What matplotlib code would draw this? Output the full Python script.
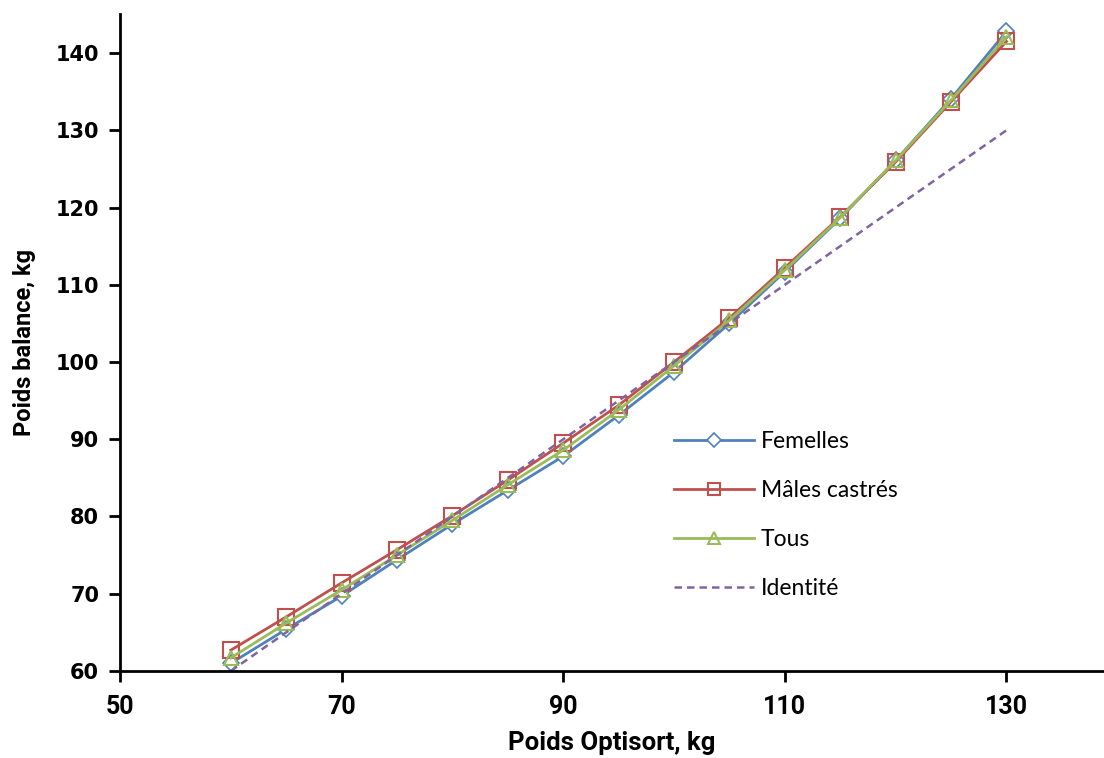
import matplotlib.pyplot as plt
import numpy as np

# Poids Optisort (kg)
optisort = [60, 65, 70, 75, 80, 85, 90, 95, 100, 105, 110, 115, 120, 125, 130]

# Poids balance (kg)
femelles = [61.0, 65.4, 69.7, 74.4, 79.0, 83.4, 87.8, 93.1, 98.7, 105.0, 111.7, 118.6, 126.1, 134.1, 142.8]
males = [62.7, 67.0, 71.4, 75.7, 80.1, 84.7, 89.5, 94.4, 100.0, 105.7, 112.2, 118.8, 125.9, 133.7, 141.5]
tous = [61.7, 66.2, 70.5, 75.0, 79.5, 84.1, 88.6, 93.8, 99.5, 105.4, 111.9, 118.7, 126.1, 133.9, 142.1]
identite = [60, 130]

fig = plt.figure(figsize=(11.04, 7.58), dpi=100)
ax = fig.add_axes([0.1087, 0.1148, 0.8913, 0.8662])

ax.plot(optisort, femelles, color='#4F81BD', lw=2, marker='D', ms=8,
        mfc='white', mec='#4F81BD', mew=1.2, label='Femelles')
ax.plot(optisort, males, color='#C0504D', lw=2, marker='s', ms=11,
        mfc='none', mec='#C0504D', mew=1.5, label='Mâles castrés')
ax.plot(optisort, tous, color='#9BBB59', lw=2, marker='^', ms=10,
        mfc='none', mec='#9BBB59', mew=1.5, label='Tous')
ax.plot(identite, identite, color='#8064A2', lw=1.8, ls=(0, (3, 2)), label='Identité')

ax.set_xlim(50, 138.8)
ax.set_ylim(60, 145)
ax.set_xticks([50, 70, 90, 110, 130])
ax.set_yticks(np.arange(60, 141, 10))

for s in ['top', 'right']:
    ax.spines[s].set_visible(False)
for s in ['left', 'bottom']:
    ax.spines[s].set_linewidth(2)
ax.tick_params(direction='out', length=8, width=2)
ax.tick_params(axis='y', pad=7)
ax.tick_params(axis='x', pad=9)

for lab in ax.get_yticklabels():
    lab.set_fontsize(15)
    lab.set_fontweight('bold')
    lab.set_family('DejaVu Sans')
for lab in ax.get_xticklabels():
    lab.set_fontsize(18)
    lab.set_fontweight('bold')
    lab.set_family('Roboto')

ax.set_xlabel('Poids Optisort, kg', fontsize=18.5, fontweight='bold', family='Roboto', labelpad=9)
ax.set_ylabel('Poids balance, kg', fontsize=17, fontweight='bold', family='Roboto', labelpad=14)

ax.legend(loc='upper left', bbox_to_anchor=(0.542, 0.397), frameon=False,
          handlelength=3.5, labelspacing=1.22, prop={'family': 'Lato', 'size': 16.5},
          handletextpad=0.3, markerscale=0.85)

fig.savefig('out.png', dpi=100)
